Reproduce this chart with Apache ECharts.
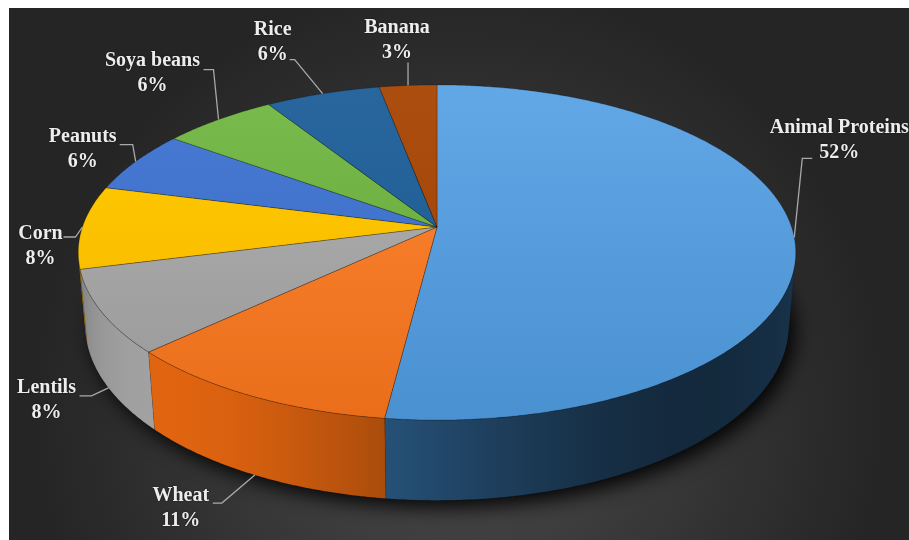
<!DOCTYPE html>
<html>
<head>
<meta charset="utf-8">
<script src="https://cdn.jsdelivr.net/npm/echarts@6/dist/echarts.min.js"></script>
<style>
  html, body { margin: 0; padding: 0; background: #fff; }
  #chart { position: absolute; left: 9px; top: 8px; width: 900px; height: 532px; }
</style>
</head>
<body>
<div id="chart"></div>
<script>
// data
const categories = ['Animal Proteins', 'Wheat', 'Lentils', 'Corn', 'Peanuts', 'Soya beans', 'Rice', 'Banana'];
const shares = [52, 11, 8, 8, 6, 6, 6, 3];

// styling / layout
const colors = ['#5B9BD5', '#ED7D31', '#A5A5A5', '#FFC000', '#4472C4', '#70AD47', '#255E91', '#9E480E'];
const wallTone = [0.72, 0.92, 1.05, 1, 1, 1, 1, 1];
const labelShift = [[45, -97], [-74, 33], [-62, 12], [-42, 19], [-53, -12], [-66, -46], [-50, -51], [-11, -45]];
const leaderEnd = [[-27, 18], [32, -5], [33, -4], [23, -9], [37, -5], [51, -4], [17, 17], [11, 22]];
const elbowLen = [10, 9, 12, 12, 13, 10, 5, 0];

const view = { cx: 428, cy: 219, fx: 2060, fy: 2033, dist: 5.81, tilt: 27.9, depth: 0.237 };
const rad = Math.PI / 180;

function project(theta, r, y) {
    const t = theta * rad, a = view.tilt * rad;
    const X = r * Math.sin(t), Z = -r * Math.cos(t);
    const u = y * Math.cos(a) - Z * Math.sin(a);
    const d = view.dist - y * Math.sin(a) - Z * Math.cos(a);
    return [view.cx + view.fx * X / d, view.cy - view.fy * u / d];
}

// range of the outer wall that faces the viewer
const visMin = Math.acos(-1 / (view.dist * Math.cos(view.tilt * rad))) / rad;
const visMax = 360 - visMin;

const total = shares.reduce((s, v) => s + v, 0);
const starts = [], ends = [];
let acc = 0;
shares.forEach(v => {
    starts.push(acc / total * 360);
    acc += v;
    ends.push(acc / total * 360);
});
const pieData = categories.map((name, i) => ({ name, value: [shares[i], starts[i], ends[i]] }));

function rgb(hex) {
    const n = parseInt(hex.slice(1), 16);
    return [(n >> 16) & 255, (n >> 8) & 255, n & 255];
}
function toCss(c) {
    return 'rgb(' + c.map(v => Math.max(0, Math.min(255, Math.round(v)))).join(',') + ')';
}
// saturate by s, then multiply by k
function tone(hex, s, k) {
    const c = rgb(hex);
    const lum = 0.3 * c[0] + 0.59 * c[1] + 0.11 * c[2];
    return toCss(c.map(v => (lum + (v - lum) * s) * k));
}
function wallShade(i, theta) {
    const c1 = Math.max(0, Math.cos((theta - 225) * rad));
    const c2 = Math.max(0, Math.cos((theta - 90) * rad));
    const k = 0.33 + 0.6 * c1 * c1 + 0.12 * Math.pow(c2, 4);
    return tone(colors[i], 1.3, k * wallTone[i]);
}

const backY = project(0, 1, 0)[1];
const frontY = project(180, 1, 0)[1];

function topItem(params, api) {
    const i = params.dataIndex;
    const a0 = api.value(1), a1 = api.value(2);
    const pts = [project(0, 0, 0)];
    for (let t = a0; t < a1; t += 0.5) pts.push(project(t, 1, 0));
    pts.push(project(a1, 1, 0));
    const base = colors[i];
    return {
        type: 'polygon',
        shape: { points: pts },
        style: {
            fill: new echarts.graphic.LinearGradient(0, backY, 0, frontY, [
                { offset: 0, color: tone(base, 1.0, 1.08) },
                { offset: 1, color: tone(base, 1.2, 0.92) }
            ], true),
            stroke: 'rgba(0,0,0,0.3)',
            lineWidth: 0.8
        }
    };
}

function wallItem(params, api) {
    const i = params.dataIndex;
    const lo = Math.max(api.value(1), visMin), hi = Math.min(api.value(2), visMax);
    if (lo >= hi) return { type: 'group', children: [] };
    const pts = [];
    for (let t = lo; t < hi; t += 0.5) pts.push(project(t, 1, 0));
    pts.push(project(hi, 1, 0));
    for (let t = hi; t > lo; t -= 0.5) pts.push(project(t, 1, -view.depth));
    pts.push(project(lo, 1, -view.depth));
    const xs = pts.map(p => p[0]);
    const x1 = Math.min.apply(null, xs), x2 = Math.max.apply(null, xs);
    const stops = [];
    const n = 12;
    for (let s = 0; s <= n; s++) {
        const t = hi - (hi - lo) * s / n;
        const px = project(t, 1, -view.depth / 2)[0];
        stops.push({ offset: Math.max(0, Math.min(1, (px - x1) / (x2 - x1 || 1))), color: wallShade(i, t) });
    }
    stops.sort((a, b) => a.offset - b.offset);
    return {
        type: 'polygon',
        shape: { points: pts },
        style: {
            fill: new echarts.graphic.LinearGradient(x1, 0, x2, 0, stops, true),
            stroke: 'rgba(0,0,0,0.15)',
            lineWidth: 0.6
        }
    };
}

function shadowItem() {
    const pts = [];
    for (let t = 0; t < 360; t += 2) pts.push(project(t, 1, -view.depth));
    return {
        type: 'polygon',
        shape: { points: pts },
        style: {
            fill: '#0a0a0a',
            shadowBlur: 20,
            shadowColor: 'rgba(0,0,0,0.95)',
            shadowOffsetX: 6,
            shadowOffsetY: 7
        }
    };
}

function labelItem(params, api) {
    const i = params.dataIndex;
    const mid = (api.value(1) + api.value(2)) / 2;
    const onWall = mid > visMin && mid < visMax;
    const anchor = project(mid, 1, onWall ? -view.depth : 0);
    const c = [anchor[0] + labelShift[i][0], anchor[1] + labelShift[i][1]];
    const end = [c[0] + leaderEnd[i][0], c[1] + leaderEnd[i][1]];
    const dir = anchor[0] > end[0] ? 1 : -1;
    const elbow = [end[0] + dir * elbowLen[i], end[1]];
    const pct = Math.round(api.value(0) / total * 100) + '%';
    return {
        type: 'group',
        children: [{
            type: 'polyline',
            shape: { points: [anchor, elbow, end] },
            style: { stroke: '#a9a9a9', lineWidth: 1.3, fill: null }
        }, {
            type: 'text',
            style: {
                text: categories[i] + '\n' + pct,
                x: c[0],
                y: c[1],
                align: 'center',
                verticalAlign: 'middle',
                fontFamily: '"Liberation Serif", "Times New Roman", serif',
                fontWeight: 'bold',
                fontSize: 20,
                lineHeight: 25,
                fill: '#ededed',
                textShadowColor: 'rgba(0,0,0,0.6)',
                textShadowBlur: 2
            }
        }]
    };
}

const chart = echarts.init(document.getElementById('chart'));
chart.setOption({
    backgroundColor: {
        type: 'radial', x: 0.5, y: 0.75, r: 0.8,
        colorStops: [
            { offset: 0, color: '#4b4b4b' },
            { offset: 1, color: '#252525' }
        ]
    },
    animation: false,
    series: [
        { type: 'custom', coordinateSystem: 'none', z: 1, silent: true, data: [[0]], renderItem: shadowItem },
        { type: 'custom', coordinateSystem: 'none', z: 2, data: pieData, renderItem: wallItem },
        { type: 'custom', coordinateSystem: 'none', z: 3, data: pieData, renderItem: topItem },
        { type: 'custom', coordinateSystem: 'none', z: 4, data: pieData, renderItem: labelItem }
    ]
});
</script>
</body>
</html>
